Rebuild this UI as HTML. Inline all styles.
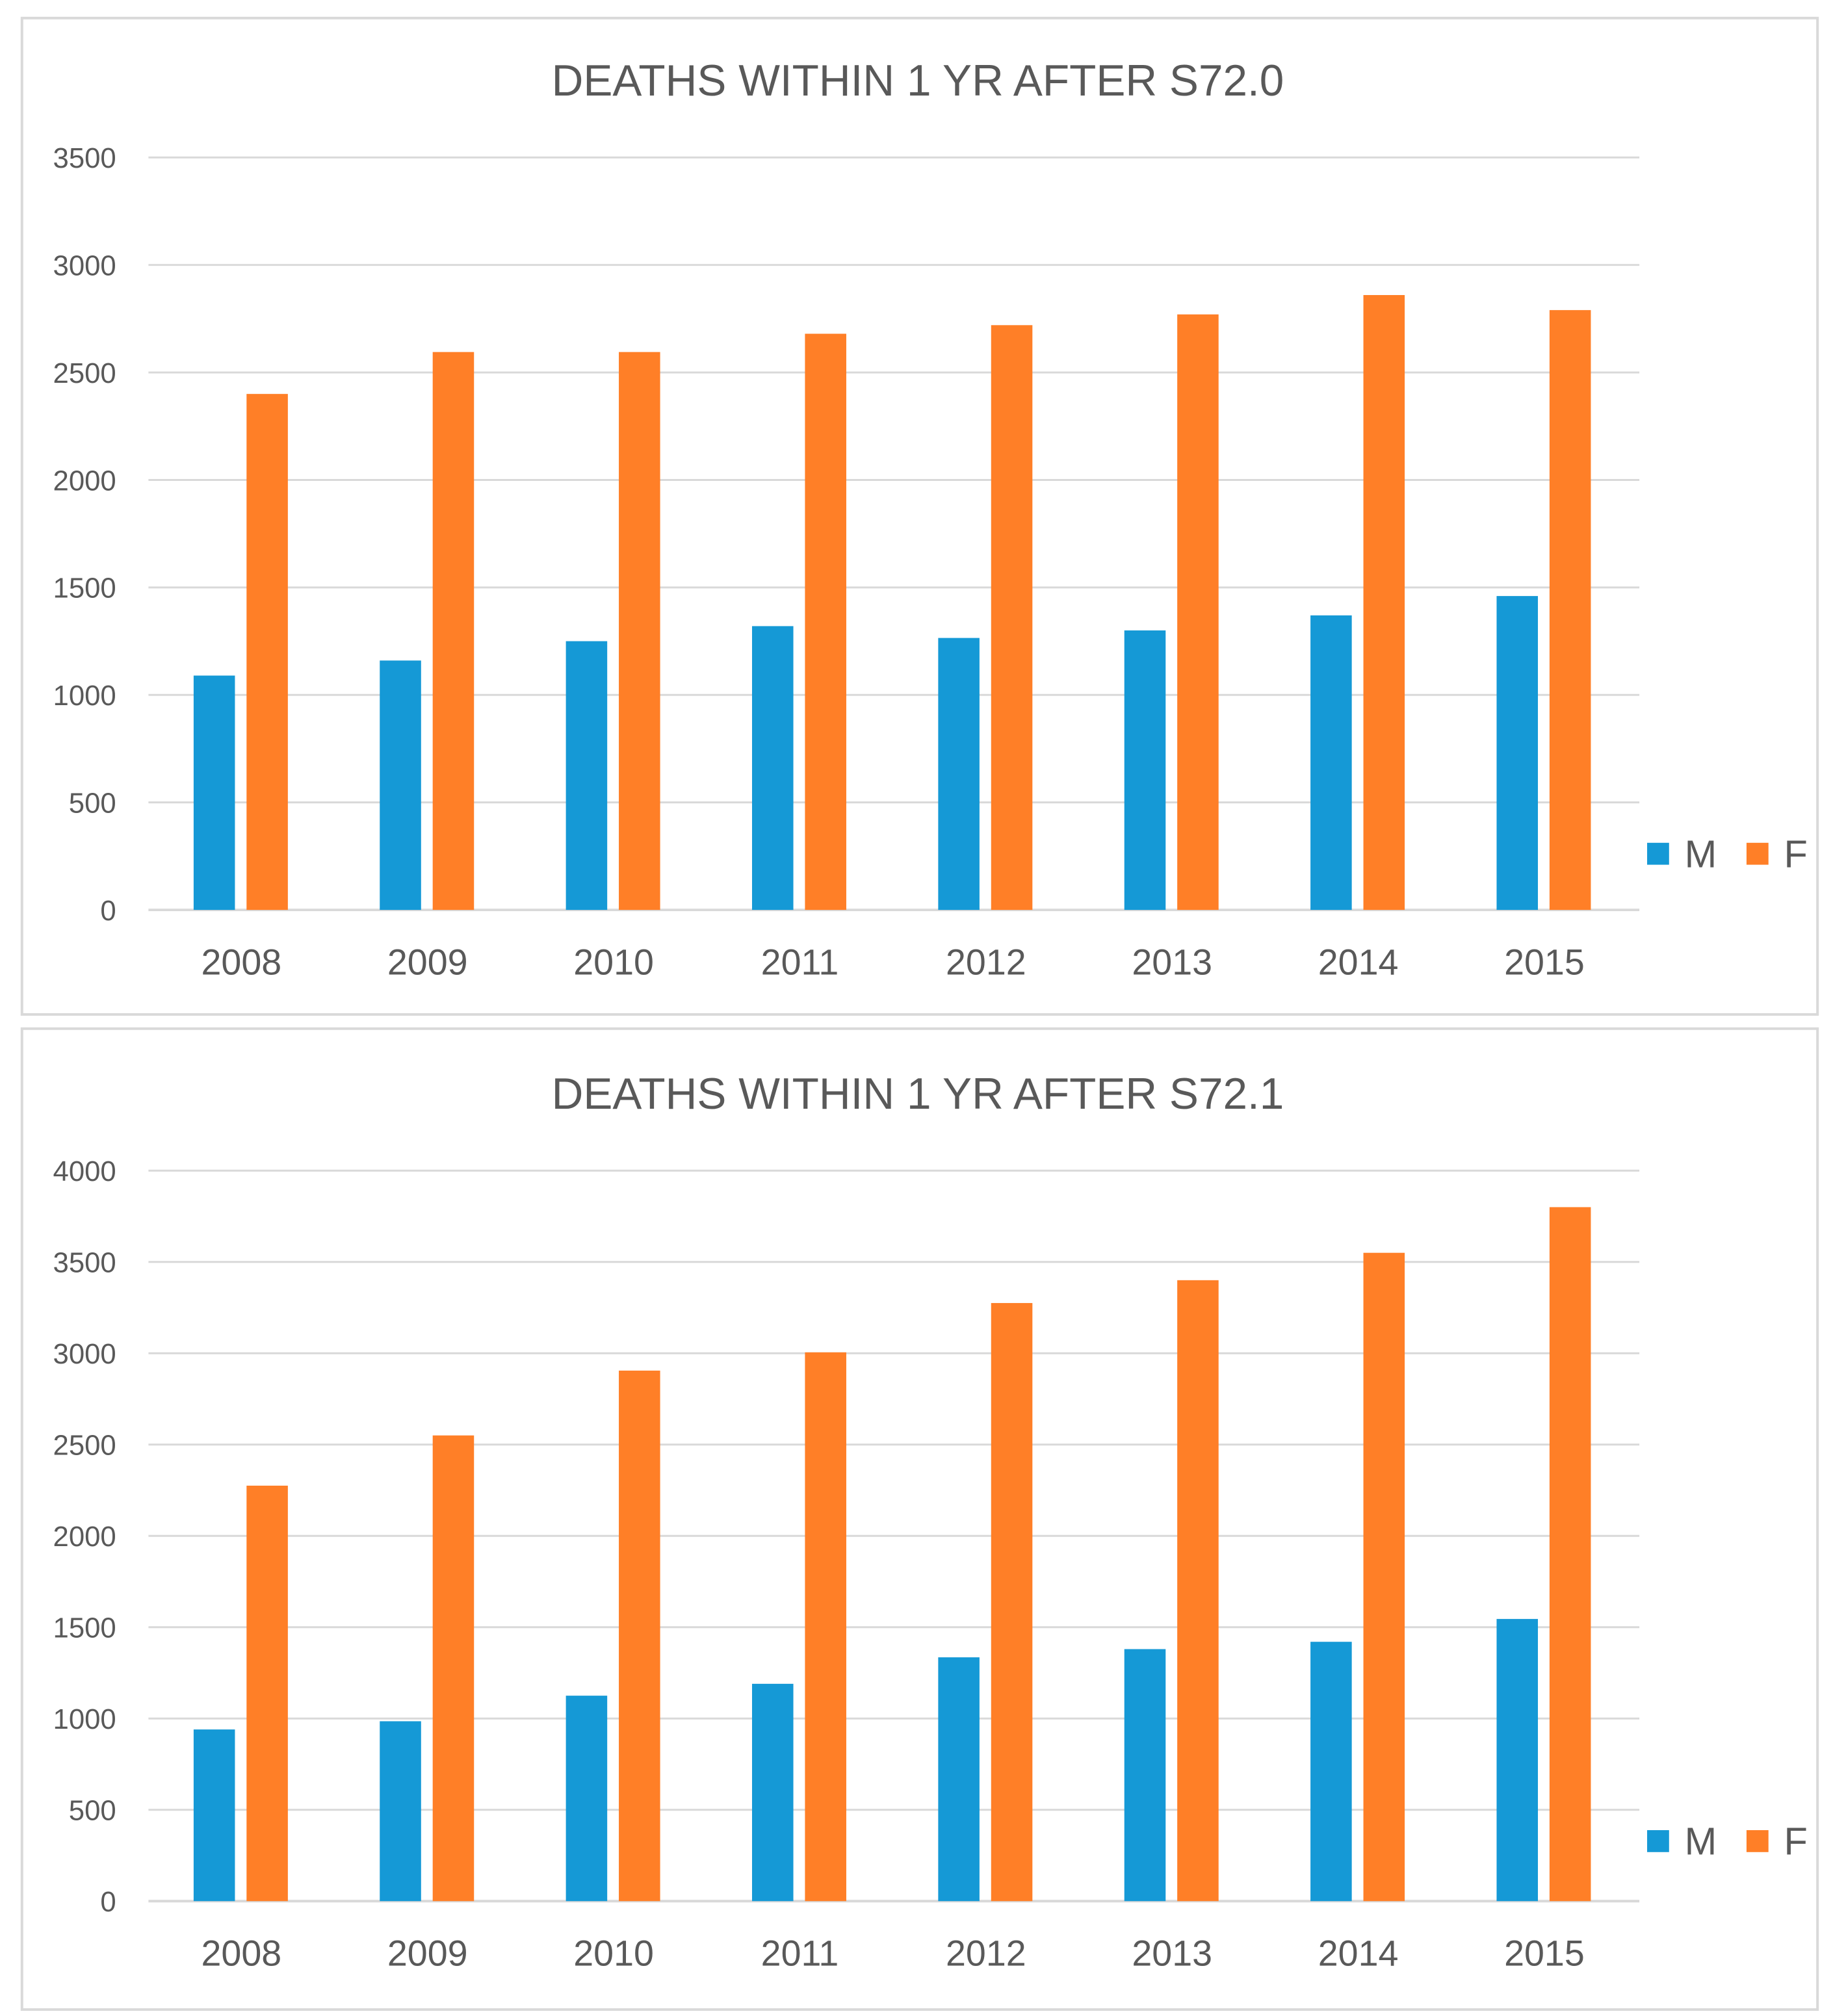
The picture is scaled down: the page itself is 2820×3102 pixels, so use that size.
<!DOCTYPE html>
<html><head><meta charset="utf-8"><style>
html,body{margin:0;padding:0;background:#fff;}
svg{display:block;}
text{font-family:"Liberation Sans",sans-serif;fill:#595959;}
</style></head><body>
<svg id="root" width="2820" height="3102" viewBox="0 0 1420 1562" xmlns="http://www.w3.org/2000/svg"></svg>
<script>
const categories = ["2008","2009","2010","2011","2012","2013","2014","2015"];
const chart1M = [1090,1160,1250,1320,1265,1300,1370,1460];
const chart1F = [2400,2595,2595,2680,2720,2770,2860,2790];
const chart1Ticks = [0,500,1000,1500,2000,2500,3000,3500];
const chart2M = [940,985,1125,1190,1335,1380,1420,1545];
const chart2F = [2275,2550,2905,3005,3275,3400,3550,3800];
const chart2Ticks = [0,500,1000,1500,2000,2500,3000,3500,4000];

const NS="http://www.w3.org/2000/svg";
const root=document.getElementById('root');
function mk(tag,attrs,parent,txt){const e=document.createElementNS(NS,tag);for(const k in attrs)e.setAttribute(k,attrs[k]);if(txt!==undefined)e.textContent=txt;parent.appendChild(e);return e;}

function drawChart(cfg){
  const g=mk('g',{},root);
  
  
  const panel=mk('rect',{x:17,y:cfg.top,width:1391,height:cfg.h,fill:'#fff',stroke:'#d9d9d9','stroke-width':2},g);
  
  
  const t=mk('text',{x:711,y:cfg.titleY,'text-anchor':'middle','font-size':34},g,cfg.title);
  
  
  const maxT=cfg.ticks[cfg.ticks.length-1];
  const y=v=>cfg.y0-(v/maxT)*(cfg.y0-cfg.yTop);
  const x=i=>187+i*144.2;
  cfg.ticks.forEach(tv=>{
    const l=mk('line',{x1:115,x2:1270,y1:y(tv),y2:y(tv),stroke:'#d9d9d9','stroke-width':tv===0?2:1.5},g);
    
    
    const lb=mk('text',{x:90,y:y(tv)+8,'text-anchor':'end','font-size':22},g,String(tv));
    
    
  });
  categories.forEach((c,i)=>{
    const bm=mk('rect',{x:x(i)-37,y:y(cfg.m[i]),width:32,height:y(0)-y(cfg.m[i]),fill:'#1599d6'},g);
    
    
    const bf=mk('rect',{x:x(i)+4,y:y(cfg.f[i]),width:32,height:y(0)-y(cfg.f[i]),fill:'#ff7f27'},g);
    
    
    const xl=mk('text',{x:x(i),y:cfg.y0+50,'text-anchor':'middle','font-size':28},g,c);
    
    
  });
  const ly=cfg.legY;
  const s1=mk('rect',{x:1276,y:ly-8,width:17,height:17,fill:'#1599d6'},g);
  
  
  const t1=mk('text',{x:1305,y:ly+11,'font-size':30},g,'M');
  
  
  const s2=mk('rect',{x:1353,y:ly-8,width:17,height:17,fill:'#ff7f27'},g);
  
  
  const t2=mk('text',{x:1382,y:ly+11,'font-size':30},g,'F');
  
  
}
drawChart({name:'chart-s72-0',title:'DEATHS WITHIN 1 YR AFTER S72.0',top:14,h:772,titleY:74,y0:705,yTop:122,ticks:chart1Ticks,m:chart1M,f:chart1F,legY:661});
drawChart({name:'chart-s72-1',title:'DEATHS WITHIN 1 YR AFTER S72.1',top:797,h:760,titleY:859,y0:1473,yTop:907,ticks:chart2Ticks,m:chart2M,f:chart2F,legY:1426});
</script>
</body></html>
